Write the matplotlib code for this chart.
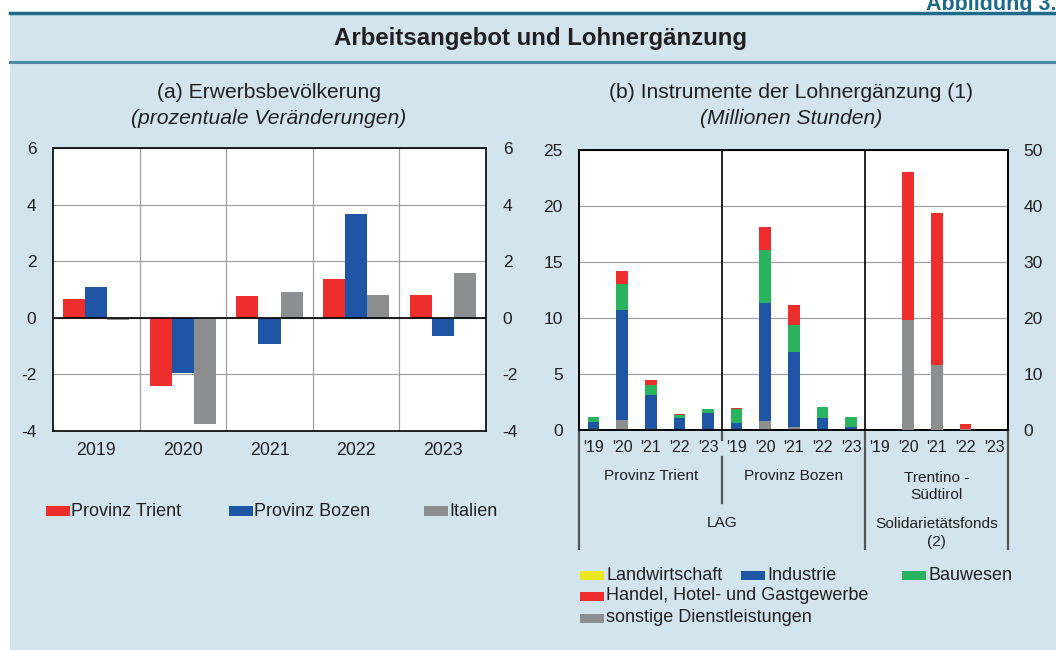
import matplotlib
matplotlib.use("Agg")
import matplotlib.pyplot as plt
from matplotlib.patches import Rectangle
from matplotlib.lines import Line2D

plt.rcParams['font.family'] = ['Liberation Sans', 'DejaVu Sans']
plt.rcParams['axes.unicode_minus'] = False

# ---------------- data ----------------
years = ['2019', '2020', '2021', '2022', '2023']
trient_a = [0.67, -2.40, 0.78, 1.36, 0.81]
bozen_a = [1.09, -1.95, -0.93, 3.68, -0.63]
italien_a = [-0.09, -3.78, 0.92, 0.80, 1.57]
series_a_names = ['Provinz Trient', 'Provinz Bozen', 'Italien']

short_years = ["'19", "'20", "'21", "'22", "'23"]
groups_b = ['Provinz Trient', 'Provinz Bozen', 'Trentino -\nSüdtirol']
sectors = ['Landwirtschaft', 'Industrie', 'Bauwesen',
           'Handel, Hotel- und Gastgewerbe', 'sonstige Dienstleistungen']
# LAG (left axis), Provinz Trient then Provinz Bozen, '19..'23
lag_landw = [0.05, 0.00, 0.00, 0.00, 0.00, 0.00, 0.00, 0.00, 0.00, 0.00]
lag_dienst = [0.00, 0.90, 0.10, 0.00, 0.00, 0.00, 0.80, 0.27, 0.00, 0.00]
lag_industrie = [0.65, 9.85, 3.05, 1.10, 1.49, 0.65, 10.57, 6.70, 1.10, 0.30]
lag_bau = [0.45, 2.32, 0.86, 0.27, 0.36, 1.25, 4.70, 2.38, 0.92, 0.83]
lag_handel = [0.00, 1.10, 0.45, 0.06, 0.03, 0.09, 2.02, 1.79, 0.06, 0.03]
# Solidaritaetsfonds Trentino-Suedtirol (right axis), '19..'23
fonds_dienst = [0.0, 19.7, 11.6, 0.24, 0.0]
fonds_handel = [0.0, 26.4, 27.2, 0.77, 0.0]

# ---------------- style ----------------
C_RED = '#ee2d2d'
C_BLUE = '#1e55a5'
C_GRAY = '#8c8e8f'
C_GREEN = '#29b35f'
C_YELLOW = '#ebe61e'
BG = '#d2e4ee'
TXT = '#231f20'
GRID = '#a0a0a0'

W, H = 1056, 650
fig = plt.figure(figsize=(W / 100, H / 100), dpi=100, facecolor='white')


def fx(x):
    return x / W


def fy(y):
    return 1 - y / H


# background panel and rules
fig.patches.append(Rectangle((fx(10), 0), 1, fy(13), transform=fig.transFigure,
                             facecolor=BG, edgecolor='none', zorder=-10))
fig.add_artist(Line2D([fx(10), 1], [fy(13), fy(13)], color='#1d6a8a', lw=2.5,
                      transform=fig.transFigure))
fig.add_artist(Line2D([fx(10), 1], [fy(61.5), fy(61.5)], color='#4a88a6', lw=2.2,
                      transform=fig.transFigure))
fig.text(fx(926), fy(10), 'Abbildung 3.', ha='left', va='baseline', fontsize=15.5,
         fontweight='bold', color='#1d6a8a')
fig.text(fx(540), fy(38), 'Arbeitsangebot und Lohnergänzung', ha='center', va='center',
         fontsize=17.3, fontweight='bold', color=TXT)

# ---------------- panel (a) ----------------
axa = fig.add_axes([fx(53), fy(430.7), fx(486 - 53), (430.7 - 148.3) / H])
axa.set_facecolor('white')
xa = list(range(len(years)))
bw = 0.255
for off, vals, col in [(-bw, trient_a, C_RED), (0, bozen_a, C_BLUE), (bw, italien_a, C_GRAY)]:
    axa.bar([x + off for x in xa], vals, width=bw, color=col, edgecolor='none', zorder=3)
axa.set_xlim(-0.5, len(years) - 0.5)
axa.set_ylim(-4, 6)
axa.set_yticks([-4, -2, 0, 2, 4, 6])
axa.set_xticks(xa)
axa.set_xticklabels(years)
axa.set_xticks([x + 0.5 for x in xa[:-1]], minor=True)
axa.grid(True, axis='y', which='major', color=GRID, lw=0.9, zorder=1)
axa.grid(True, axis='x', which='minor', color=GRID, lw=0.9, zorder=1)
axa.axhline(0, color='black', lw=1.2, zorder=4)
axa.tick_params(axis='y', which='both', length=0, labelleft=True, labelright=True,
                pad=12, labelsize=12.5, labelcolor=TXT)
axa.tick_params(axis='x', which='both', length=0, pad=8, labelsize=12.8, labelcolor=TXT)
for sp in axa.spines.values():
    sp.set_color('black')
    sp.set_linewidth(1.2)
fig.text(fx(269), fy(93), '(a) Erwerbsbevölkerung', ha='center', va='center',
         fontsize=15.2, color=TXT)
fig.text(fx(269), fy(118), '(prozentuale Veränderungen)', ha='center', va='center',
         fontsize=15.2, style='italic', color=TXT)

# legend (a)
for x0, col, name in [(46, C_RED, series_a_names[0]), (229, C_BLUE, series_a_names[1]),
                      (424, C_GRAY, series_a_names[2])]:
    fig.patches.append(Rectangle((fx(x0), fy(516)), fx(23.5), 10 / H, transform=fig.transFigure,
                                 facecolor=col, edgecolor='none'))
    fig.text(fx(x0 + 25), fy(511), name, ha='left', va='center', fontsize=13, color=TXT)

# ---------------- panel (b) ----------------
axb = fig.add_axes([fx(579.3), fy(430), fx(1008.3 - 579.3), 280 / H])
axb.set_facecolor('white')
axr = axb.twinx()
n_lag = len(lag_industrie)
xl = list(range(n_lag))
xf = [n_lag + i for i in range(len(fonds_handel))]
bwb = 0.41
bottom = [0.0] * n_lag
for vals, col in [(lag_landw, C_YELLOW), (lag_dienst, C_GRAY), (lag_industrie, C_BLUE),
                  (lag_bau, C_GREEN), (lag_handel, C_RED)]:
    axb.bar(xl, vals, width=bwb, bottom=bottom, color=col, edgecolor='none', zorder=3)
    bottom = [b + v for b, v in zip(bottom, vals)]
bottom = [0.0] * len(xf)
for vals, col in [(fonds_dienst, C_GRAY), (fonds_handel, C_RED)]:
    axr.bar(xf, vals, width=bwb, bottom=bottom, color=col, edgecolor='none', zorder=3)
    bottom = [b + v for b, v in zip(bottom, vals)]

ntot = n_lag + len(xf)
for a in (axb, axr):
    a.set_xlim(-0.5, ntot - 0.5)
axb.set_ylim(0, 25)
axr.set_ylim(0, 50)
axb.set_yticks([0, 5, 10, 15, 20, 25])
axr.set_yticks([0, 10, 20, 30, 40, 50])
axb.set_xticks(range(ntot))
axb.set_xticklabels(short_years * 3)
axb.grid(True, axis='y', color=GRID, lw=0.9, zorder=1)
axb.set_axisbelow(True)
for xv in (4.5, 9.5):
    axb.axvline(xv, color='black', lw=1.2, zorder=4)
axb.tick_params(axis='y', length=0, pad=12, labelsize=12.5, labelcolor=TXT)
axr.tick_params(axis='y', length=0, pad=11, labelsize=12.5, labelcolor=TXT)
axb.tick_params(axis='x', length=0, pad=7, labelsize=11.5, labelcolor=TXT)
for a in (axb, axr):
    for sp in a.spines.values():
        sp.set_color('black')
        sp.set_linewidth(1.2)

# separator lines below axis (axes coords)
LC = '#555555'


def vline_below(xa_, y0, y1):
    axb.add_line(Line2D([xa_, xa_], [y0, y1], transform=axb.transAxes, color=LC,
                        lw=1.6, clip_on=False))


def yl(ypx):
    return (430 - ypx) / 280.0


vline_below(0.0, 0, yl(549))
vline_below(2 / 3, 0, yl(549))
vline_below(1.0, 0, yl(549))
vline_below(1 / 3, 0, yl(440))
vline_below(1 / 3, yl(457), yl(503))

cx = [(579.3 + 722.3) / 2, (722.3 + 864.3) / 2, (864.3 + 1008.3) / 2]
fig.text(fx(cx[0]), fy(476), groups_b[0], ha='center', va='center', fontsize=11.1, color=TXT)
fig.text(fx(cx[1]), fy(476), groups_b[1], ha='center', va='center', fontsize=11.1, color=TXT)
fig.text(fx(cx[2]), fy(486.5), groups_b[2], ha='center', va='center', fontsize=11.1,
         color=TXT, linespacing=1.3)
fig.text(fx((579.3 + 864.3) / 2), fy(523), 'LAG', ha='center', va='center',
         fontsize=11.1, color=TXT)
fig.text(fx(cx[2]), fy(533), 'Solidarietätsfonds\n(2)', ha='center', va='center',
         fontsize=11.1, color=TXT, linespacing=1.3)

fig.text(fx(791), fy(93), '(b) Instrumente der Lohnergänzung (1)', ha='center', va='center',
         fontsize=15.2, color=TXT)
fig.text(fx(791), fy(118), '(Millionen Stunden)', ha='center', va='center',
         fontsize=15.2, style='italic', color=TXT)

# legend (b)
leg_items = [(580, 575, C_YELLOW, sectors[0]), (741, 575, C_BLUE, sectors[1]),
             (902, 575, C_GREEN, sectors[2]), (580, 596, C_RED, sectors[3]),
             (580, 618, C_GRAY, sectors[4])]
for x0, y0, col, name in leg_items:
    fig.patches.append(Rectangle((fx(x0), fy(y0 + 4.5)), fx(24), 9 / H,
                                 transform=fig.transFigure, facecolor=col, edgecolor='none'))
    fig.text(fx(x0 + 26.5), fy(y0), name, ha='left', va='center', fontsize=13, color=TXT)

fig.savefig('out.png', dpi=100, facecolor='white')
